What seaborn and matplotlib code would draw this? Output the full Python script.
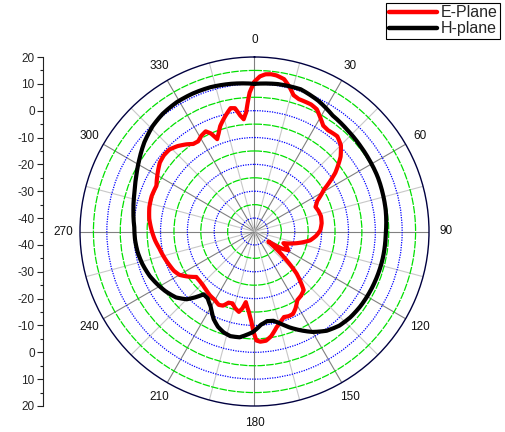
import numpy as np
import pandas as pd
import matplotlib
matplotlib.use("Agg")
import matplotlib.pyplot as plt
import seaborn as sns
from matplotlib.ticker import FixedLocator, FuncFormatter

# Radiation pattern data (angle in deg, gain in dB)
h_angle = [0, 9, 18, 26, 34, 43, 51, 58, 66, 74, 81, 91, 103, 117, 125, 132, 138, 144,
           150, 155, 160, 164, 168, 172, 176, 181, 188, 193, 197, 201, 205, 210, 215,
           219, 222, 225, 230, 236, 242, 247, 254, 260, 266, 272, 280, 288, 295, 302,
           309, 316, 322, 329, 336, 343, 351, 360]
h_gain = [10.0, 10.6, 10.7, 9.2, 7.1, 6.2, 5.7, 5.4, 5.2, 4.8, 4.5, 3.9, 3.8, 3.5, 3.3, 2.9,
          2.2, 0.7, -1.8, -4.4, -7.0, -9.3, -11.0, -11.3, -10.2, -7.5, -5.2, -5.0, -5.7,
          -7.0, -9.0, -12.5, -14.6, -14.9, -12.0, -9.3, -6.8, -5.1, -3.7, -2.6, -1.5,
          -0.8, -0.4, -0.2, 0.8, 2.0, 3.6, 5.6, 7.8, 9.6, 10.6, 11.2, 11.3, 11.2, 10.7, 10.0]

e_angle = [0, 2, 4, 6, 8, 11, 13.5, 16, 18.5, 21, 24, 27, 30, 33, 36, 41, 45, 49, 54, 59,
           64, 68, 72, 77, 83, 89, 94, 99, 107, 112, 116, 119, 122, 126, 131, 135, 140,
           144, 148, 152, 155, 158, 161, 164, 167, 171, 174, 177, 179, 180.5, 182, 184,
           187, 189, 191, 194, 197, 200, 203, 206, 210, 215, 220, 224, 228, 232, 236,
           240, 244, 248, 254, 260, 265, 270, 277, 283, 289, 295, 300, 306, 310, 314,
           318, 322, 325, 328, 331, 334, 336, 338, 340, 342, 346, 349, 351, 353, 354.5,
           356, 358, 360]
e_gain = [10.8, 12.8, 13.7, 13.9, 13.7, 12.8, 10.5, 7.8, 7.0, 6.9, 6.8, 6.1, 4.0, 2.0, 1.6,
          2.0, 0.5, -2.5, -7.8, -14.9, -19.0, -20.5, -20.0, -19.6, -19.8, -20.5, -22.0,
          -24.0, -29.8, -33.4, -31.5, -30.6, -33.0, -38.6, -30.7, -22.8, -16.5, -15.5,
          -14.9, -12.5, -11.1, -11.0, -11.3, -10.0, -8.4, -5.5, -4.1, -3.9, -4.4, -7.5,
          -11.5, -15.0, -18.5, -16.0, -14.5, -15.5, -17.0, -16.8, -15.0, -14.6, -15.5,
          -16.0, -16.8, -17.3, -17.5, -17.5, -15.0, -12.7, -11.6, -11.0, -10.0, -9.0,
          -7.8, -6.8, -5.5, -4.8, -4.5, -4.7, -3.2, -1.4, -0.9, -1.0, -2.2, -3.8, -5.2,
          -5.4, -4.2, -3.5, -5.0, -7.9, -6.0, -3.7, -0.5, 1.8, 1.5, -1.5, -3.0, -0.5,
          6.8, 10.8]

planes = ["E-Plane", "H-plane"]
r_min, r_max = -45, 20
ring_values = list(range(-40, 20, 5))
left_tick_labels = list(range(-40, 30, 10))

df = pd.concat([
    pd.DataFrame({"theta": np.deg2rad(e_angle), "gain": e_gain, "plane": planes[0]}),
    pd.DataFrame({"theta": np.deg2rad(h_angle), "gain": h_gain, "plane": planes[1]}),
], ignore_index=True)

sns.set_theme(style="white")
plt.rcParams["font.family"] = ["Liberation Sans", "DejaVu Sans"]

fig = plt.figure(figsize=(5.06, 4.32), dpi=100)
ax = fig.add_axes([80 / 506, 26 / 432, 349 / 506, 349 / 432], projection="polar")
ax.set_theta_zero_location("N")
ax.set_theta_direction(-1)
ax.set_ylim(r_min, r_max)
ax.set_axisbelow(True)

sns.lineplot(data=df, x="theta", y="gain", hue="plane",
             palette={"E-Plane": "#ff0000", "H-plane": "#000000"},
             sort=False, estimator=None, linewidth=3.0, ax=ax)
ax.set_xlabel("")
ax.set_ylabel("")
# draw each segment as a polar arc (as the original software does), round joins
for ln in ax.lines:
    ln.get_path()._interpolation_steps = 12
    ln.set_solid_joinstyle("round")
    ln.set_solid_capstyle("round")

# angular grid: every 15 deg, labels every 30
deg_ticks = np.arange(0, 360, 15)
ax.set_xticks(np.deg2rad(deg_ticks))
ax.set_xticklabels([str(d) if d % 30 == 0 else "" for d in deg_ticks], fontsize=8.5)
ax.set_yticks(ring_values)
ax.set_yticklabels([])
ax.grid(True)
for d, tick in zip(deg_ticks, ax.xaxis.get_major_ticks()):
    tick.gridline.set_color("#808080" if d % 30 == 0 else "#c8c8c8")
    tick.gridline.set_linewidth(0.8)
    tick.gridline.set_linestyle("-")
for v, tick in zip(ring_values, ax.yaxis.get_major_ticks()):
    k = (v - r_min) // 5
    if k % 2 == 1:
        tick.gridline.set_color("#0000ff")
        tick.gridline.set_linestyle((0, (1, 1)))
    else:
        tick.gridline.set_color("#00e000")
        tick.gridline.set_linestyle((0, (6, 1)))
    tick.gridline.set_linewidth(0.9)
ax.tick_params(axis="x", direction="in", length=5, width=0.8, color="#000040",
               pad=5, labelcolor="#111111")
ax.spines["polar"].set_color("#000040")
ax.spines["polar"].set_linewidth(1.0)

# legend
handles, labels = ax.get_legend_handles_labels()
ax.legend(handles, labels, loc="upper right", bbox_to_anchor=(500 / 506, 1 - 3 / 432),
          bbox_transform=fig.transFigure, frameon=True, fancybox=False,
          edgecolor="black", framealpha=1, fontsize=11.5, handlelength=3.0,
          borderpad=0.15, labelspacing=0.05, handletextpad=0.25, borderaxespad=0)
ax.get_legend().get_frame().set_linewidth(0.8)
for lh in ax.get_legend().get_lines():
    lh.set_linewidth(3.2)

# mirrored radial scale on the left
lax = fig.add_axes([43 / 506, 26 / 432, 0.0001, 349 / 432])
span = r_max - r_min
lax.set_ylim(-span, span)
lax.set_xticks([])
for s in ["top", "right", "bottom"]:
    lax.spines[s].set_visible(False)
lax.spines["left"].set_color("#222222")
lax.spines["left"].set_linewidth(0.8)
major = [u for v in left_tick_labels for u in (v - r_min, -(v - r_min))]
lax.yaxis.set_major_locator(FixedLocator(sorted(major)))
lax.yaxis.set_minor_locator(FixedLocator(np.arange(-span + 5, span, 10)))
lax.yaxis.set_major_formatter(FuncFormatter(lambda u, p: f"{abs(u) + r_min:g}"))
lax.tick_params(axis="y", which="major", direction="out", length=4, width=0.8,
                labelsize=8.5, pad=2, color="#222222", left=True)
lax.tick_params(axis="y", which="minor", direction="out", length=2.5, width=0.8,
                color="#222222", left=True)

fig.savefig("out.png", dpi=100)
